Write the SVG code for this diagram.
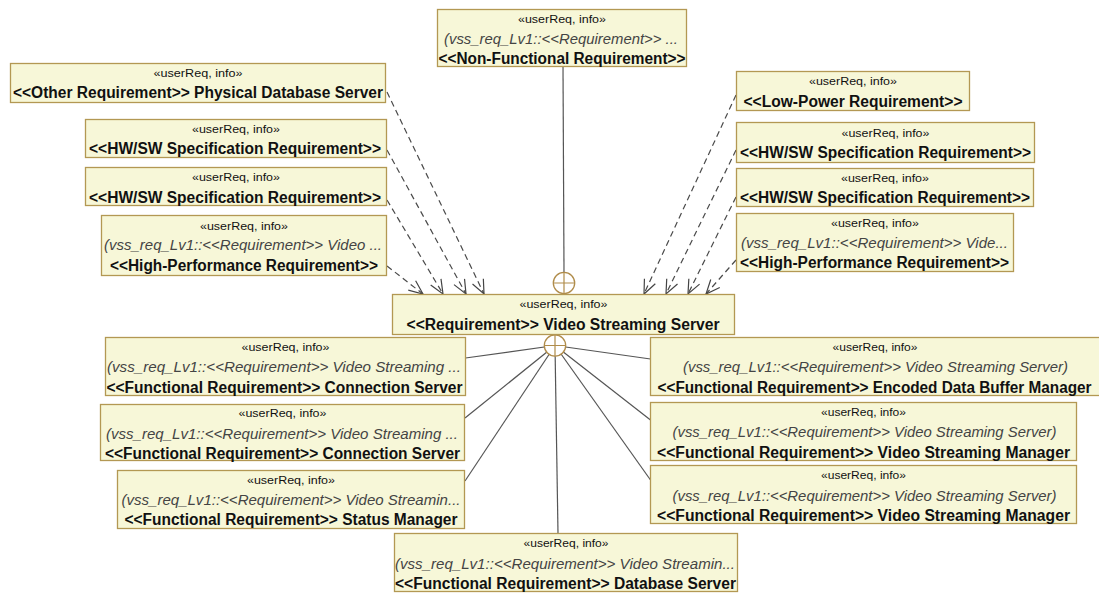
<svg xmlns="http://www.w3.org/2000/svg" width="1099" height="593" viewBox="0 0 1099 593">
  <style>
    .box { fill: #f7f7d8; stroke: #b39853; stroke-width: 1.3; }
    .st { font-family: "Liberation Sans", Arial, sans-serif; font-size: 11.5px; fill: #111; text-anchor: middle; }
    .it { font-family: "Liberation Sans", Arial, sans-serif; font-size: 14.5px; font-style: italic; fill: #444; text-anchor: middle; }
    .bd { font-family: "Liberation Sans", Arial, sans-serif; font-size: 16px; font-weight: bold; fill: #111; text-anchor: middle; }
    .dep { fill: none; stroke: #4a4a4a; stroke-width: 1.2; stroke-dasharray: 6 4; }
    .link { fill: none; stroke: #555; stroke-width: 1.2; }
    .hub { fill: #ffffff; stroke: #b08c4a; stroke-width: 1.3; }
  </style>
  <defs>
    <marker id="open" markerUnits="userSpaceOnUse" markerWidth="18" markerHeight="16" refX="15" refY="7" orient="auto">
      <path d="M1,1 L15,7 L1,13" fill="none" stroke="#444" stroke-width="1.2" stroke-dasharray="none"/>
    </marker>
  </defs>

  <rect width="1099" height="593" fill="#ffffff"/>

  <!-- connectors -->
  <g id="connectors">
    <!-- containment line from the non-functional requirement -->
    <line class="link" x1="563" y1="66" x2="564" y2="272"/>
    <!-- dependency arrows into the central requirement -->
    <line class="dep" x1="387" y1="92" x2="484" y2="294" marker-end="url(#open)"/>
    <line class="dep" x1="387" y1="150" x2="466" y2="294" marker-end="url(#open)"/>
    <line class="dep" x1="387" y1="200" x2="443" y2="294" marker-end="url(#open)"/>
    <line class="dep" x1="387" y1="266" x2="423" y2="294" marker-end="url(#open)"/>
    <line class="dep" x1="736" y1="95" x2="644" y2="294" marker-end="url(#open)"/>
    <line class="dep" x1="736" y1="150" x2="666" y2="294" marker-end="url(#open)"/>
    <line class="dep" x1="736" y1="197" x2="688" y2="294" marker-end="url(#open)"/>
    <line class="dep" x1="736" y1="260" x2="706" y2="294" marker-end="url(#open)"/>
    <!-- containment lines to the functional requirements -->
    <line class="link" x1="555" y1="345.5" x2="465.5" y2="358"/>
    <line class="link" x1="555" y1="345.5" x2="465" y2="418"/>
    <line class="link" x1="555" y1="345.5" x2="465" y2="481"/>
    <line class="link" x1="555" y1="345.5" x2="558" y2="533.5"/>
    <line class="link" x1="555" y1="345.5" x2="650.5" y2="359"/>
    <line class="link" x1="555" y1="345.5" x2="650.5" y2="420"/>
    <line class="link" x1="555" y1="345.5" x2="650.5" y2="480"/>
    <!-- containment hubs -->
    <g>
      <circle class="hub" cx="564" cy="283" r="10.7"/>
      <path d="M553.3,283 H574.7 M564,272.3 V293.7" stroke="#b08c4a" stroke-width="1.2"/>
      <circle class="hub" cx="555" cy="345.5" r="10.7"/>
      <path d="M544.3,345.5 H565.7 M555,334.8 V356.2" stroke="#b08c4a" stroke-width="1.2"/>
    </g>
  </g>

  <g id="nonFunctional">
    <rect class="box" x="437.5" y="9.5" width="249" height="57"/>
    <text class="st" x="562" y="23" textLength="88" lengthAdjust="spacingAndGlyphs">«userReq, info»</text>
    <text class="it" x="561" y="44" textLength="234" lengthAdjust="spacingAndGlyphs">(vss_req_Lv1::&lt;&lt;Requirement&gt;&gt; ...</text>
    <text class="bd" x="562" y="64" textLength="247" lengthAdjust="spacingAndGlyphs">&lt;&lt;Non-Functional Requirement&gt;&gt;</text>
  </g>

  <g id="otherReq">
    <rect class="box" x="10.5" y="63.5" width="375" height="39"/>
    <text class="st" x="198" y="77" textLength="89" lengthAdjust="spacingAndGlyphs">«userReq, info»</text>
    <text class="bd" x="198" y="98" textLength="370" lengthAdjust="spacingAndGlyphs">&lt;&lt;Other Requirement&gt;&gt; Physical Database Server</text>
  </g>

  <g id="hwswLeft1">
    <rect class="box" x="85.5" y="119.5" width="301" height="38"/>
    <text class="st" x="236" y="133" textLength="88" lengthAdjust="spacingAndGlyphs">«userReq, info»</text>
    <text class="bd" x="235" y="154" textLength="292" lengthAdjust="spacingAndGlyphs">&lt;&lt;HW/SW Specification Requirement&gt;&gt;</text>
  </g>

  <g id="hwswLeft2">
    <rect class="box" x="85.5" y="167.5" width="301" height="38"/>
    <text class="st" x="236" y="181" textLength="88" lengthAdjust="spacingAndGlyphs">«userReq, info»</text>
    <text class="bd" x="235" y="202.5" textLength="292" lengthAdjust="spacingAndGlyphs">&lt;&lt;HW/SW Specification Requirement&gt;&gt;</text>
  </g>

  <g id="highPerfLeft">
    <rect class="box" x="101.5" y="215.5" width="285" height="60"/>
    <text class="st" x="244" y="229.5" textLength="88" lengthAdjust="spacingAndGlyphs">«userReq, info»</text>
    <text class="it" x="243" y="250" textLength="278" lengthAdjust="spacingAndGlyphs">(vss_req_Lv1::&lt;&lt;Requirement&gt;&gt; Video ...</text>
    <text class="bd" x="244" y="270.5" textLength="268" lengthAdjust="spacingAndGlyphs">&lt;&lt;High-Performance Requirement&gt;&gt;</text>
  </g>

  <g id="lowPower">
    <rect class="box" x="736.5" y="71.5" width="233" height="39"/>
    <text class="st" x="853" y="85" textLength="88" lengthAdjust="spacingAndGlyphs">«userReq, info»</text>
    <text class="bd" x="853" y="106.5" textLength="219" lengthAdjust="spacingAndGlyphs">&lt;&lt;Low-Power Requirement&gt;&gt;</text>
  </g>

  <g id="hwswRight1">
    <rect class="box" x="736.5" y="122.5" width="298" height="40"/>
    <text class="st" x="885.5" y="136.5" textLength="88" lengthAdjust="spacingAndGlyphs">«userReq, info»</text>
    <text class="bd" x="885.5" y="158" textLength="291" lengthAdjust="spacingAndGlyphs">&lt;&lt;HW/SW Specification Requirement&gt;&gt;</text>
  </g>

  <g id="hwswRight2">
    <rect class="box" x="736.5" y="168.5" width="297" height="38"/>
    <text class="st" x="885" y="182" textLength="88" lengthAdjust="spacingAndGlyphs">«userReq, info»</text>
    <text class="bd" x="885" y="202.5" textLength="290" lengthAdjust="spacingAndGlyphs">&lt;&lt;HW/SW Specification Requirement&gt;&gt;</text>
  </g>

  <g id="highPerfRight">
    <rect class="box" x="736.5" y="213.5" width="277" height="58"/>
    <text class="st" x="875" y="227" textLength="88" lengthAdjust="spacingAndGlyphs">«userReq, info»</text>
    <text class="it" x="874.5" y="248" textLength="267" lengthAdjust="spacingAndGlyphs">(vss_req_Lv1::&lt;&lt;Requirement&gt;&gt; Vide...</text>
    <text class="bd" x="874.5" y="268" textLength="269" lengthAdjust="spacingAndGlyphs">&lt;&lt;High-Performance Requirement&gt;&gt;</text>
  </g>

  <g id="videoStreamingServer">
    <rect class="box" x="392.5" y="294.5" width="342" height="40"/>
    <text class="st" x="563.5" y="308" textLength="88" lengthAdjust="spacingAndGlyphs">«userReq, info»</text>
    <text class="bd" x="563" y="329.5" textLength="313" lengthAdjust="spacingAndGlyphs">&lt;&lt;Requirement&gt;&gt; Video Streaming Server</text>
  </g>

  <g id="connectionServer1">
    <rect class="box" x="105.5" y="337.5" width="360" height="58"/>
    <text class="st" x="285.5" y="350.5" textLength="88" lengthAdjust="spacingAndGlyphs">«userReq, info»</text>
    <text class="it" x="284" y="372" textLength="354" lengthAdjust="spacingAndGlyphs">(vss_req_Lv1::&lt;&lt;Requirement&gt;&gt; Video Streaming ...</text>
    <text class="bd" x="284.5" y="392.5" textLength="356" lengthAdjust="spacingAndGlyphs">&lt;&lt;Functional Requirement&gt;&gt; Connection Server</text>
  </g>

  <g id="connectionServer2">
    <rect class="box" x="100.5" y="404.5" width="364" height="56"/>
    <text class="st" x="282.5" y="417" textLength="88" lengthAdjust="spacingAndGlyphs">«userReq, info»</text>
    <text class="it" x="282" y="438.5" textLength="352" lengthAdjust="spacingAndGlyphs">(vss_req_Lv1::&lt;&lt;Requirement&gt;&gt; Video Streaming ...</text>
    <text class="bd" x="282.5" y="458.5" textLength="355" lengthAdjust="spacingAndGlyphs">&lt;&lt;Functional Requirement&gt;&gt; Connection Server</text>
  </g>

  <g id="statusManager">
    <rect class="box" x="117.5" y="470.5" width="347" height="58"/>
    <text class="st" x="291" y="483.5" textLength="88" lengthAdjust="spacingAndGlyphs">«userReq, info»</text>
    <text class="it" x="291" y="505" textLength="339" lengthAdjust="spacingAndGlyphs">(vss_req_Lv1::&lt;&lt;Requirement&gt;&gt; Video Streamin...</text>
    <text class="bd" x="291" y="525" textLength="333" lengthAdjust="spacingAndGlyphs">&lt;&lt;Functional Requirement&gt;&gt; Status Manager</text>
  </g>

  <g id="encodedDataBufferManager">
    <rect class="box" x="650.5" y="337.5" width="450" height="58"/>
    <text class="st" x="875" y="350.5" textLength="85" lengthAdjust="spacingAndGlyphs">«userReq, info»</text>
    <text class="it" x="875.5" y="372" textLength="385" lengthAdjust="spacingAndGlyphs">(vss_req_Lv1::&lt;&lt;Requirement&gt;&gt; Video Streaming Server)</text>
    <text class="bd" x="874.5" y="392.5" textLength="434" lengthAdjust="spacingAndGlyphs">&lt;&lt;Functional Requirement&gt;&gt; Encoded Data Buffer Manager</text>
  </g>

  <g id="videoStreamingManager1">
    <rect class="box" x="650.5" y="402.5" width="426" height="58"/>
    <text class="st" x="863.5" y="415.5" textLength="85" lengthAdjust="spacingAndGlyphs">«userReq, info»</text>
    <text class="it" x="864.5" y="437" textLength="384" lengthAdjust="spacingAndGlyphs">(vss_req_Lv1::&lt;&lt;Requirement&gt;&gt; Video Streaming Server)</text>
    <text class="bd" x="863.5" y="457.5" textLength="413" lengthAdjust="spacingAndGlyphs">&lt;&lt;Functional Requirement&gt;&gt; Video Streaming Manager</text>
  </g>

  <g id="videoStreamingManager2">
    <rect class="box" x="650.5" y="465.5" width="426" height="58"/>
    <text class="st" x="863.5" y="479" textLength="85" lengthAdjust="spacingAndGlyphs">«userReq, info»</text>
    <text class="it" x="864.5" y="500.5" textLength="384" lengthAdjust="spacingAndGlyphs">(vss_req_Lv1::&lt;&lt;Requirement&gt;&gt; Video Streaming Server)</text>
    <text class="bd" x="863.5" y="521" textLength="413" lengthAdjust="spacingAndGlyphs">&lt;&lt;Functional Requirement&gt;&gt; Video Streaming Manager</text>
  </g>

  <g id="databaseServer">
    <rect class="box" x="394.5" y="533.5" width="343" height="58"/>
    <text class="st" x="566" y="547" textLength="85" lengthAdjust="spacingAndGlyphs">«userReq, info»</text>
    <text class="it" x="565" y="568.5" textLength="340" lengthAdjust="spacingAndGlyphs">(vss_req_Lv1::&lt;&lt;Requirement&gt;&gt; Video Streamin...</text>
    <text class="bd" x="565.5" y="589" textLength="341" lengthAdjust="spacingAndGlyphs">&lt;&lt;Functional Requirement&gt;&gt; Database Server</text>
  </g>
</svg>
